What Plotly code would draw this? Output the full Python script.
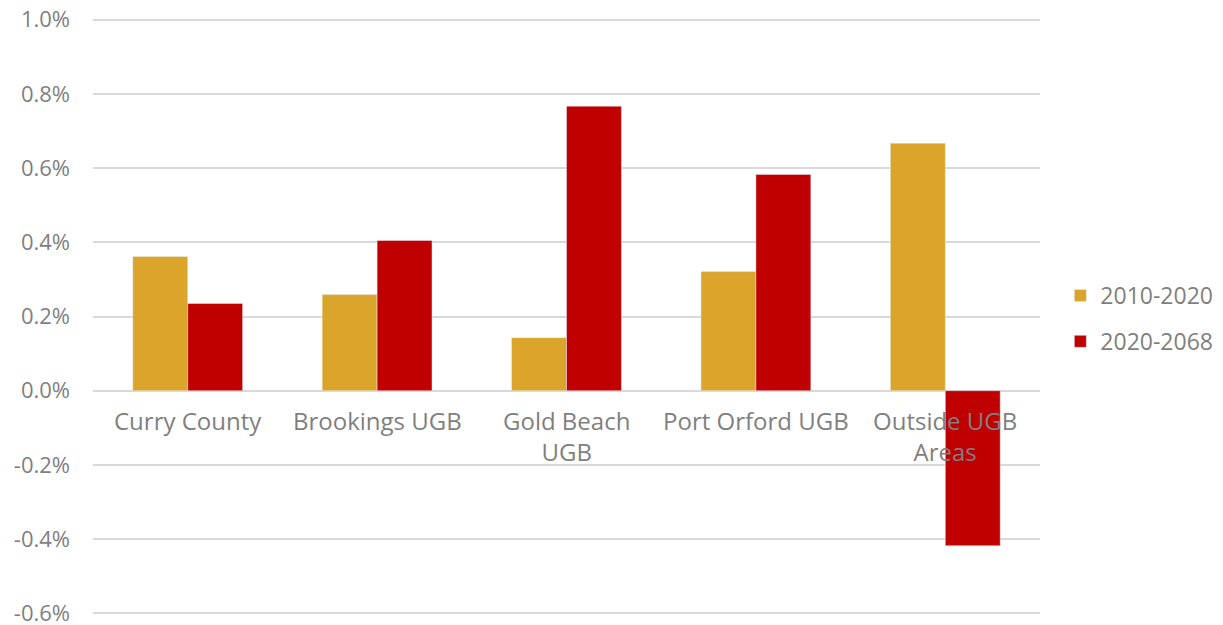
import plotly.graph_objects as go

# Average annual growth rates by area
areas = ["Curry County", "Brookings UGB", "Gold Beach<br>UGB", "Port Orford UGB", "Outside UGB<br>Areas"]
growth_2010_2020 = [0.362, 0.259, 0.143, 0.321, 0.667]
growth_2020_2068 = [0.235, 0.405, 0.767, 0.583, -0.418]
y_ticks = [-0.6, -0.4, -0.2, 0.0, 0.2, 0.4, 0.6, 0.8, 1.0]

FONT = "Open Sans, Lato, sans-serif"
TEXT = "#7f7f7f"

fig = go.Figure()
fig.add_trace(go.Bar(x=areas, y=growth_2010_2020, name="2010-2020",
                     marker_color="#DAA52A", legendgroup="a"))
fig.add_trace(go.Bar(x=areas, y=growth_2020_2068, name="2020-2068",
                     marker_color="#C00000", legendgroup="b"))

# Category labels sit just under the zero line
for a in areas:
    fig.add_annotation(x=a, y=0, xref="x", yref="y", text=a, showarrow=False,
                       yanchor="top", yshift=-11,
                       font=dict(family=FONT, size=24, color=TEXT))

fig.update_layout(
    width=1223, height=625,
    margin=dict(l=93, r=183, t=16, b=8, autoexpand=False),
    plot_bgcolor="white", paper_bgcolor="white",
    barmode="group", bargap=0.42, bargroupgap=0,
    font=dict(family=FONT, size=22, color=TEXT),
    legend=dict(xref="container", yref="container", x=0.867, y=0.5616,
                yanchor="top", xanchor="left",
                font=dict(family=FONT, size=23, color=TEXT),
                tracegroupgap=13, itemwidth=30),
    showlegend=True,
)
fig.update_xaxes(showticklabels=False, showgrid=False, zeroline=False, showline=False)
fig.update_yaxes(range=[-0.61, 1.01], tickvals=y_ticks,
                 ticktext=[f"{v:.1f}%" for v in y_ticks],
                 showgrid=True, gridcolor="#d9d9d9", gridwidth=1.5,
                 zeroline=True, zerolinecolor="#d9d9d9", zerolinewidth=1.5,
                 showline=False, ticks="", ticklabelstandoff=22, automargin=False,
                 ticklabeloverflow="allow")

fig.write_html("out.html")
